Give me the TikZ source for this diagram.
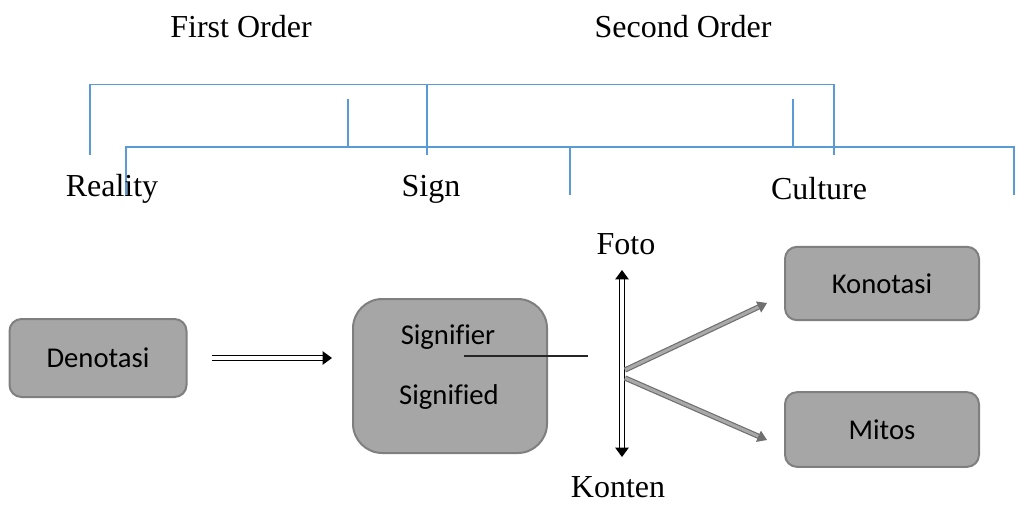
\documentclass[tikz,border=0pt]{standalone}
\usepackage{fontspec}
\setmainfont{Liberation Serif}
\newfontfamily\boxfont[Ligatures=NoCommon]{Carlito}
\usetikzlibrary{arrows.meta}
\definecolor{brace}{HTML}{5B9BD5}
\definecolor{boxfill}{HTML}{A6A6A6}
\definecolor{boxline}{HTML}{7F7F7F}
\definecolor{arrowgray}{HTML}{8C8C8C}
\tikzset{
  label/.style={font=\fontsize{24}{28}\selectfont, inner sep=0pt},
  boxtext/.style={font=\boxfont\fontsize{21.5}{26}\selectfont, inner sep=0pt},
  conceptbox/.style={draw=boxline, line width=1.5pt, fill=boxfill,
    rounded corners=9pt, font=\boxfont\fontsize{21.5}{26}\selectfont},
  bracket/.style={draw=brace, line width=1.1pt},
  hollowarrow/.style={draw=black, line width=1pt, double=white,
    double distance=2.6pt, -{Triangle[length=7pt,width=10pt]}},
  hollowboth/.style={draw=black, line width=1pt, double=white,
    double distance=2.6pt, {Triangle[length=7pt,width=10pt]}-{Triangle[length=7pt,width=10pt]}},
  grayarrow/.style={draw=arrowgray!80!black, line width=0.9pt, double=arrowgray!75,
    double distance=2.2pt, -{Triangle[length=7pt,width=9pt]}},
}
\begin{document}
\begin{tikzpicture}[x=0.75pt, y=-0.75pt]
  \useasboundingbox (0,0) rectangle (1018,504);

  % order headings
  \node[label] (first)  at (241,27) {First Order};
  \node[label] (second) at (683,27) {Second Order};

  % brackets
  \draw[bracket] (90,155) -- (90,84.5) -- (834,84.5) -- (834,155);
  \draw[bracket] (427,84.5) -- (427,155);
  \draw[bracket] (126,195) -- (126,147) -- (570,147);
  \draw[bracket] (348,99) -- (348,147);
  \draw[bracket] (570,195) -- (570,147) -- (1014,147) -- (1014,195);
  \draw[bracket] (793,99) -- (793,147);

  % level labels
  \node[label] (reality) at (112,189) {Reality};
  \node[label] (sign)    at (431,189) {Sign};
  \node[label] (culture) at (819,189) {Culture};

  % concept boxes
  \node[conceptbox, minimum width=132.75pt, minimum height=58.5pt] (den) at (98,358) {Denotasi};
  \node[conceptbox, rounded corners=22pt, minimum width=145.5pt, minimum height=115.5pt] (sig) at (450,376) {};
  \node[boxtext] (sigtop) at (448,337) {Signifier};
  \node[boxtext] (sigbot) at (449,397) {Signified};
  \node[conceptbox, minimum width=145.5pt, minimum height=55pt] (kon) at (882,283.5) {Konotasi};
  \node[conceptbox, minimum width=145.5pt, minimum height=56pt] (mit) at (882,429.5) {Mitos};

  % photo / content axis
  \node[label] (foto)   at (626,244) {Foto};
  \node[label] (konten) at (618,487) {Konten};
  \coordinate (axtop) at (622,270);
  \coordinate (axbot) at (622,457);
  \draw[hollowboth] (axtop) -- (axbot);

  % connectors
  \coordinate (denout) at (212,358);
  \coordinate (sigin)  at (332,358);
  \draw[hollowarrow] (denout) -- (sigin);

  \coordinate (barstart) at (464,356);
  \coordinate (barend)   at (588,356);
  \draw[line width=0.8pt, black!85] (barstart) -- (barend);

  \coordinate (forkup)  at (625,370);
  \coordinate (forkdn)  at (625,378);
  \coordinate (konin)   at (767,303);
  \coordinate (mitin)   at (767,440);
  \draw[grayarrow] (forkup) -- (konin);
  \draw[grayarrow] (forkdn) -- (mitin);
\end{tikzpicture}
\end{document}
